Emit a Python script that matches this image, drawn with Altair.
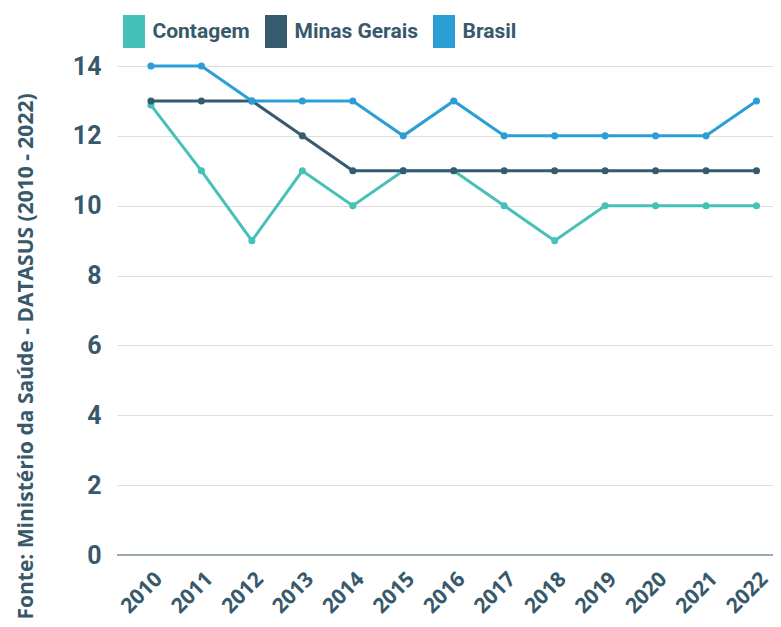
import altair as alt
import pandas as pd

years = [str(y) for y in range(2010, 2023)]
contagem = [12.88, 11, 9, 11, 10, 11, 11, 10, 9, 10, 10, 10, 10]
minas = [13, 13, 13, 12, 11, 11, 11, 11, 11, 11, 11, 11, 11]
brasil = [14, 14, 13, 13, 13, 12, 13, 12, 12, 12, 12, 12, 13]
series = ["Contagem", "Minas Gerais", "Brasil"]
colors = ["#45c1b8", "#365a6e", "#2b9fd5"]

rows = []
for name, vals in zip(series, [contagem, minas, brasil]):
    for y, v in zip(years, vals):
        rows.append({"ano": y, "valor": v, "serie": name, "ord": series.index(name)})
df = pd.DataFrame(rows)

NARROW = "Roboto"
WIDE = "Open Sans"
TXT = "#37596b"

x = alt.X("ano:O", scale=alt.Scale(paddingOuter=0.453, align=0.673),
          axis=alt.Axis(title=None, labelAngle=-45, labelAlign="right", labelBaseline="top",
                        labelFontSize=21, labelFontWeight="bold", labelColor=TXT, labelFont=WIDE,
                        ticks=False, domain=False, grid=False, labelPadding=13))
y = alt.Y("valor:Q", scale=alt.Scale(domain=[0, 14], nice=False),
          axis=alt.Axis(title="Fonte: Ministério da Saúde - DATASUS (2010 - 2022)",
                        titleFontSize=21, titleFont=WIDE, titleFontWeight="bold", titleColor=TXT,
                        titleX=-85, titleY=290, titleBaseline="alphabetic",
                        values=list(range(0, 15, 2)),
                        labelFontSize=25, labelFontWeight="bold", labelColor=TXT, labelFont=NARROW,
                        ticks=False, domain=False, gridColor="#dddddd", labelPadding=16))
color = alt.Color("serie:N", scale=alt.Scale(domain=series, range=colors),
                  legend=alt.Legend(title=None, orient="none", legendX=0.5, legendY=-51,
                                    direction="horizontal",
                                    symbolType="M-0.667,-1H0.667V1H-0.667Z", symbolSize=1089,
                                    symbolStrokeWidth=0, symbolOpacity=1,
                                    labelFontSize=21, labelFontWeight="bold", labelColor=TXT,
                                    labelFont=NARROW, columnPadding=9, labelOffset=2))

base = alt.Chart(df)
lines = base.mark_line(strokeWidth=3).encode(x=x, y=y, color=color, order="ord:Q")
points = base.mark_circle(size=50, opacity=1).encode(
    x=x, y=y, color=alt.Color("serie:N", scale=alt.Scale(domain=series, range=colors), legend=None))
zero = alt.Chart(pd.DataFrame({"v": [0]})).mark_rule(color="#9aabb3", strokeWidth=2).encode(y="v:Q")

chart = alt.layer(lines, points, zero).properties(
    width=656, height=489,
    autosize=alt.AutoSizeParams(type="none"),
    padding={"left": 109, "top": 58, "right": 0, "bottom": 64},
).configure_view(stroke=None)

chart.save("out.html", embed_options={"renderer": "svg", "actions": False})
